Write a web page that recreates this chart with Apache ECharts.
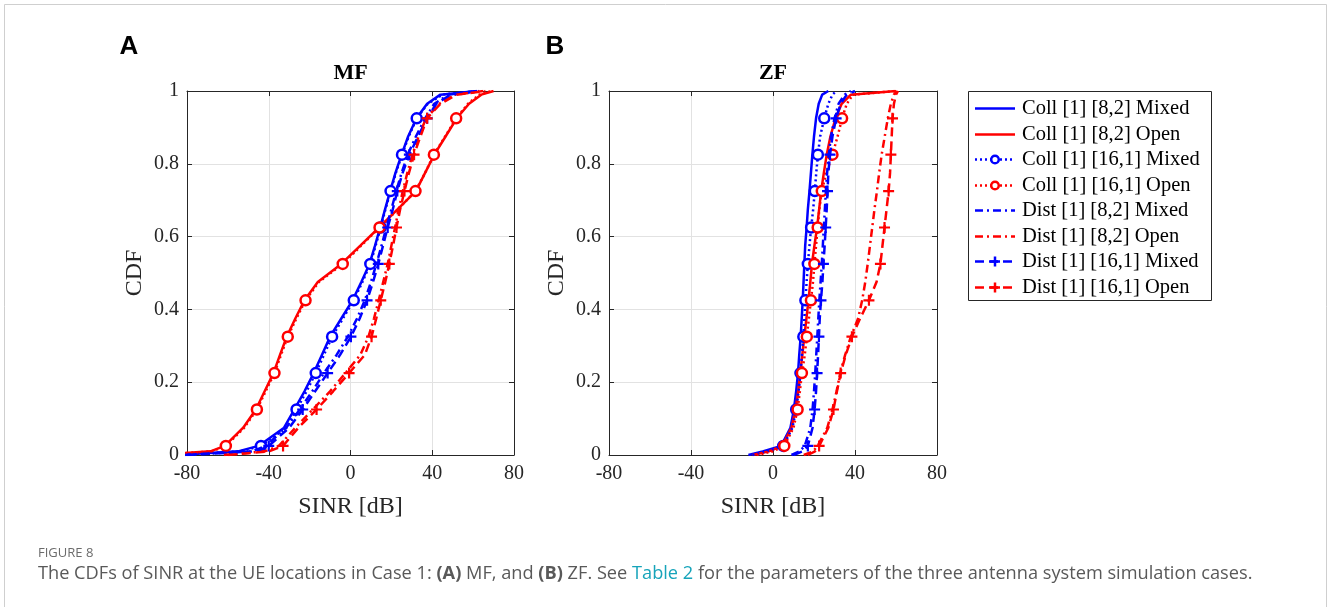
<!DOCTYPE html>
<html><head><meta charset="utf-8">
<script src="https://cdn.jsdelivr.net/npm/echarts@6/dist/echarts.min.js"></script>
<style>html,body{margin:0;padding:0;background:#fff;} #c{width:1328px;height:607px;}</style>
</head><body><div id="c"></div><script>
// ---- data ----
const cdfLevels = [0, 0.01, 0.025, 0.075, 0.125, 0.175, 0.225, 0.275, 0.325, 0.375, 0.425, 0.475, 0.525, 0.575, 0.625, 0.675, 0.725, 0.775, 0.825, 0.875, 0.925, 0.965, 0.99, 1];
const markerIdx = [2, 4, 6, 8, 10, 12, 14, 16, 18, 20];
const xTicks = [-80, -40, 0, 40, 80];
const yTicks = [0, 0.2, 0.4, 0.6, 0.8, 1];
const seriesNames = ['Coll [1] [8,2] Mixed', 'Coll [1] [8,2] Open', 'Coll [1] [16,1] Mixed', 'Coll [1] [16,1] Open', 'Dist [1] [8,2] Mixed', 'Dist [1] [8,2] Open', 'Dist [1] [16,1] Mixed', 'Dist [1] [16,1] Open'];
const panelTitles = ['MF', 'ZF'];
const panelLetters = ['A', 'B'];

// MF panel: SINR [dB] at each CDF level
const mfCollMixed82  = [-85, -55, -45, -32.5, -27.5, -22.5, -18, -14, -10, -4.5, 1, 5.3, 9.3, 12, 14.5, 16.9, 19.4, 22, 25, 28.2, 32.3, 37.5, 44, 62];
const mfCollOpen82   = [-95, -68.5, -61.5, -52.5, -46.3, -42, -37.7, -34.5, -31.2, -27, -22.5, -16, -4.5, 4.8, 14, 23, 32, 36.5, 41, 46.5, 52, 58, 64, 70];
const mfCollMixed161 = [-85, -54, -43.8, -31.3, -26.4, -21.5, -17, -13, -9, -3.7, 1.6, 5.8, 9.7, 12.3, 14.8, 17.1, 19.6, 22.2, 25.2, 28.5, 32.4, 37.8, 45, 63];
const mfCollOpen161  = [-95, -68, -61, -52, -45.8, -41.5, -37.2, -34, -30.7, -26.5, -22, -15.5, -3.8, 5.2, 14.2, 23.2, 31.8, 36.5, 40.8, 46.3, 51.7, 57.5, 63, 69];
const mfDistMixed82  = [-82, -48, -41.5, -31.5, -24.8, -18.7, -13, -6.8, -1.3, 3.2, 7, 10, 12.7, 15.2, 17.5, 20, 22.4, 25, 28, 32, 36.5, 41, 48, 62];
const mfDistOpen82   = [-62, -42, -35, -27, -18.5, -10, -2.5, 4.8, 8.8, 11.5, 13.8, 16, 18.2, 20, 21.8, 23.6, 25.6, 27.8, 30.3, 33.3, 37, 43.5, 51, 65];
const mfDistMixed161 = [-80, -46, -40, -30, -23.4, -17.3, -11.2, -5.1, 0.2, 4.5, 8.1, 11, 13.6, 15.9, 18.2, 20.7, 22.9, 25.5, 28.8, 33, 37.5, 42, 49, 63];
const mfDistOpen161  = [-60, -40, -33, -25.5, -16.6, -8.5, -0.7, 7, 10.3, 12.6, 14.8, 17, 19, 20.8, 22.5, 24.3, 26.4, 28.6, 31.1, 34.2, 37.5, 44, 52, 66];

// ZF panel
const zfCollMixed82  = [-12, -5, 4, 8.5, 10.2, 11.3, 12.2, 12.8, 13.5, 14, 14.5, 14.9, 15.3, 15.7, 16.4, 17, 17.8, 18.5, 19.2, 20, 21, 22.3, 24, 27];
const zfCollOpen82   = [-10, -2, 4.5, 9, 11, 12.3, 13.3, 14.3, 15.3, 16.3, 17.3, 18.2, 19, 20.2, 21.5, 22.5, 23.5, 24.8, 26.2, 28, 30.5, 33.5, 38, 60];
const zfCollMixed161 = [-10, -3, 5, 9.5, 11.3, 12.5, 13.4, 14.1, 14.8, 15.3, 15.8, 16.4, 17, 17.8, 18.6, 19.6, 20.4, 21.1, 21.9, 23, 25, 27, 29, 31];
const zfCollOpen161  = [-8, 0, 5.5, 10, 12, 13.1, 14.1, 15.5, 16.5, 17.5, 18.5, 19.5, 20.2, 21, 21.8, 22.6, 23.8, 26, 29, 31.5, 33.7, 36, 39, 60];
const zfDistMixed82  = [9, 13, 15.5, 18.2, 19.3, 20, 20.6, 21.1, 21.6, 22.1, 22.6, 23.2, 23.8, 24.3, 24.8, 25.3, 25.8, 26.4, 27.2, 28.3, 30, 32, 35, 38];
const zfDistOpen82   = [15, 19.5, 21.8, 26.5, 29, 31, 32.8, 35.2, 38, 41.5, 43.5, 45, 46.2, 47.3, 48.4, 49.5, 50.7, 51.8, 53, 54.5, 56, 57.5, 59, 60.5];
const zfDistMixed161 = [10, 14.5, 17, 19.3, 20.3, 21, 21.5, 22, 22.4, 22.8, 23.4, 24.1, 24.6, 25.2, 25.7, 26.2, 26.6, 27, 27.8, 29, 30.8, 33, 36, 40];
const zfDistOpen161  = [17, 20.5, 22.5, 27, 29.5, 31.2, 33, 35.5, 38.5, 42.5, 46.8, 50.5, 52.4, 53.4, 54.4, 55.4, 56.4, 57.1, 57.5, 57.9, 58.3, 59, 60, 61];

const panels = [
  [mfCollMixed82, mfCollOpen82, mfCollMixed161, mfCollOpen161, mfDistMixed82, mfDistOpen82, mfDistMixed161, mfDistOpen161],
  [zfCollMixed82, zfCollOpen82, zfCollMixed161, zfCollOpen161, zfDistMixed82, zfDistOpen82, zfDistMixed161, zfDistOpen161]
];

// ---- styles ----
const BLUE = '#0000ff', RED = '#ff0000';
const PLUS = 'path://M4,0H6V4H10V6H6V10H4V6H0V4H4Z';
const styles = [
  {color: BLUE, type: 'solid'},
  {color: RED, type: 'solid'},
  {color: BLUE, type: [2, 3], marker: 'circle'},
  {color: RED, type: [2, 3], marker: 'circle'},
  {color: BLUE, type: [8, 4, 2, 4]},
  {color: RED, type: [8, 4, 2, 4]},
  {color: BLUE, type: [9, 5], marker: 'plus'},
  {color: RED, type: [9, 5], marker: 'plus'}
];
const LW = 2.5;

const FONT = '"Liberation Serif", "Times New Roman", serif';
const CAPFONT = '"Open Sans", sans-serif';
const gridsPx = [{left: 187, top: 91, width: 327, height: 364}, {left: 609, top: 91, width: 328, height: 364}];

const xAxes = [], yAxes = [], series = [], graphics = [];
gridsPx.forEach((g, gi) => {
  const baseX = {
    gridIndex: gi, type: 'value', min: xTicks[0], max: xTicks[xTicks.length - 1], interval: 40,
    axisLine: {show: true, onZero: false, lineStyle: {color: '#262626', width: 1}},
    axisTick: {show: true, inside: true, length: 5, lineStyle: {color: '#262626'}},
    splitLine: {show: false}
  };
  xAxes.push(Object.assign({}, baseX, {
    position: 'bottom',
    axisLabel: {show: true, fontFamily: FONT, fontSize: 20, color: '#262626', margin: 9},
    splitLine: {show: true, lineStyle: {color: '#e2e2e2', width: 1}},
    name: 'SINR [dB]', nameLocation: 'middle', nameGap: 40,
    nameTextStyle: {fontFamily: FONT, fontSize: 24, color: '#262626'}
  }));
  xAxes.push(Object.assign({}, baseX, {position: 'top', axisLabel: {show: false}}));
  const baseY = {
    gridIndex: gi, type: 'value', min: yTicks[0], max: yTicks[yTicks.length - 1], interval: 0.2,
    axisLine: {show: true, onZero: false, lineStyle: {color: '#262626', width: 1}},
    axisTick: {show: true, inside: true, length: 5, lineStyle: {color: '#262626'}},
    splitLine: {show: false}
  };
  yAxes.push(Object.assign({}, baseY, {
    position: 'left',
    axisLabel: {show: true, fontFamily: FONT, fontSize: 20, color: '#262626', margin: 8,
      formatter: v => (v === 0 ? '0' : v === 1 ? '1' : v.toFixed(1))},
    splitLine: {show: true, lineStyle: {color: '#e2e2e2', width: 1}},
    name: 'CDF', nameLocation: 'middle', nameGap: 40,
    nameTextStyle: {fontFamily: FONT, fontSize: 24, color: '#262626'}
  }));
  yAxes.push(Object.assign({}, baseY, {position: 'right', axisLabel: {show: false}}));

  panels[gi].forEach((xs, si) => {
    const st = styles[si];
    series.push({
      type: 'line', name: seriesNames[si], xAxisIndex: gi * 2, yAxisIndex: gi * 2,
      data: xs.map((x, i) => [x, cdfLevels[i]]),
      symbol: 'none', clip: true, animation: false, silent: true, z: 2 + si * 2,
      lineStyle: {color: st.color, width: LW, type: st.type},
      emphasis: {disabled: true}
    });
    if (st.marker) {
      const isPlus = st.marker === 'plus';
      series.push({
        type: 'scatter', name: seriesNames[si] + ' markers', xAxisIndex: gi * 2, yAxisIndex: gi * 2,
        data: markerIdx.map(i => [xs[i], cdfLevels[i]]),
        symbol: isPlus ? PLUS : 'circle', symbolSize: isPlus ? 11 : 10,
        clip: true, animation: false, silent: true, z: 3 + si * 2,
        itemStyle: isPlus ? {color: st.color, borderWidth: 0, opacity: 1}
                          : {color: '#ffffff', borderColor: st.color, borderWidth: LW, opacity: 1},
        emphasis: {disabled: true}
      });
    }
  });

  const cx = g.left + g.width / 2;
  graphics.push({type: 'text', x: cx, y: 73, style: {text: panelTitles[gi], font: 'bold 22px ' + FONT, fill: '#000', align: 'center', verticalAlign: 'middle'}});
  graphics.push({type: 'text', x: gi === 0 ? 129 : 555, y: 47, style: {text: panelLetters[gi], font: 'bold 26px "Liberation Sans", Arial, sans-serif', fill: '#000', align: 'center', verticalAlign: 'middle'}});
});

// ---- custom legend (drawn like MATLAB's) ----
const LEG = {x: 968.5, y: 91.5, w: 243, h: 209, row0: 108, rowGap: 25.57, lineX0: 975, lineX1: 1015, textX: 1022};
graphics.push({type: 'rect', shape: {x: LEG.x, y: LEG.y, width: LEG.w, height: LEG.h}, style: {fill: '#fff', stroke: '#262626', lineWidth: 1}, z: 20});
seriesNames.forEach((nm, si) => {
  const st = styles[si];
  const y = Math.round(LEG.row0 + si * LEG.rowGap) + 0.5;
  graphics.push({type: 'line', shape: {x1: LEG.lineX0, y1: y, x2: LEG.lineX1, y2: y}, z: 21,
    style: {stroke: st.color, lineWidth: LW, lineDash: st.type === 'solid' ? null : st.type}});
  const mx = (LEG.lineX0 + LEG.lineX1) / 2;
  if (st.marker === 'circle') {
    graphics.push({type: 'circle', shape: {cx: mx, cy: y, r: 3.8}, z: 22, style: {fill: '#fff', stroke: st.color, lineWidth: LW}});
  } else if (st.marker === 'plus') {
    graphics.push({type: 'line', shape: {x1: mx - 5, y1: y, x2: mx + 5, y2: y}, z: 22, style: {stroke: st.color, lineWidth: LW}});
    graphics.push({type: 'line', shape: {x1: mx, y1: y - 5, x2: mx, y2: y + 5}, z: 22, style: {stroke: st.color, lineWidth: LW}});
  }
  graphics.push({type: 'text', x: LEG.textX, y: y, z: 22, style: {text: nm, font: '20.5px ' + FONT, fill: '#000', verticalAlign: 'middle'}});
});

// ---- frame and caption ----
graphics.push({type: 'rect', shape: {x: 4.5, y: 4.5, width: 1322, height: 700}, style: {fill: 'none', stroke: '#cfcfcf', lineWidth: 1}, z: -10});
graphics.push({type: 'text', x: 38, y: 553, style: {text: 'FIGURE 8', font: '13px ' + CAPFONT, fill: '#6b6b6b', verticalAlign: 'middle'}});
graphics.push({type: 'text', x: 38, y: 574, style: {
  text: '{n|The CDFs of SINR at the UE locations in Case 1: }{b|(A)}{n| MF, and }{b|(B)}{n| ZF. See }{l|Table 2}{n| for the parameters of the three antenna system simulation cases.}',
  verticalAlign: 'middle', fill: '#595959',
  rich: {
    n: {fontFamily: CAPFONT, fontSize: 18.2, fill: '#595959'},
    b: {fontFamily: CAPFONT, fontSize: 18.2, fill: '#595959', fontWeight: 'bold'},
    l: {fontFamily: CAPFONT, fontSize: 18.2, fill: '#16a4ba'}
  }
}});

const chart = echarts.init(document.getElementById('c'), null, {renderer: 'canvas'});
chart.setOption({
  animation: false,
  backgroundColor: '#ffffff',
  grid: gridsPx.map(g => Object.assign({containLabel: false}, g)),
  xAxis: xAxes,
  yAxis: yAxes,
  series,
  graphic: graphics
});
</script></body></html>
